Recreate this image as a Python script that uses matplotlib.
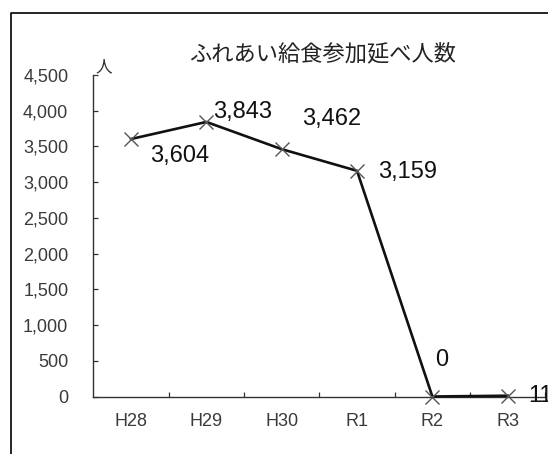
import matplotlib
matplotlib.use("Agg")
import matplotlib.pyplot as plt
from matplotlib.lines import Line2D
from matplotlib.ticker import FuncFormatter, FixedLocator

# Annual total of participants in the community school-lunch programme
years = ["H28", "H29", "H30", "R1", "R2", "R3"]
participants = [3604, 3843, 3462, 3159, 0, 11]

# Label offsets (pixels) of each value label relative to its point
label_dx = [49, 36, 50, 51, 9, 21]
label_dy = [-17, 10, 30, -1, 36, 0]
label_ha = ["center", "center", "center", "center", "center", "left"]

y_ticks = list(range(0, 4501, 500))

W, H = 548, 454
fig = plt.figure(figsize=(W / 100, H / 100), dpi=100)
fig.patch.set_facecolor("white")

ax_left, ax_bottom = 93.35, 396.5
ax_w, ax_h = 452, 321.5
ax = fig.add_axes([ax_left / W, 1 - ax_bottom / H, ax_w / W, ax_h / H])

xs = list(range(len(years)))
ax.plot(xs, participants, color="#111111", lw=1.9, zorder=3, clip_on=False)
ax.plot(xs, participants, ls="none", marker="x", ms=9.5, mew=1.0,
        color="#555555", zorder=4, clip_on=False)

for x, v, dx, dy, ha in zip(xs, participants, label_dx, label_dy, label_ha):
    ax.annotate(f"{v:,}", (x, v), xytext=(dx, dy), textcoords="offset pixels",
                ha=ha, va="center", fontsize=17, family="Liberation Sans",
                color="#111111", annotation_clip=False)

ax.set_xlim(-0.5, len(years) - 0.5)
ax.set_ylim(0, 4500)

ax.set_yticks(y_ticks)
ax.yaxis.set_major_formatter(FuncFormatter(lambda v, p: f"{int(v):,}"))
ax.tick_params(axis="y", direction="in", length=3.6, width=0.9,
               color="#333333", pad=18, labelsize=13, labelcolor="#3a3a3a")

ax.set_xticks(xs)
ax.set_xticklabels(years)
ax.xaxis.set_minor_locator(FixedLocator([i + 0.5 for i in range(len(years))]))
ax.tick_params(axis="x", which="major", length=0, pad=12,
               labelsize=13, labelcolor="#3a3a3a")
ax.tick_params(axis="x", which="minor", direction="in", length=3.6,
               width=0.9, color="#333333")
for lab in ax.get_xticklabels() + ax.get_yticklabels():
    lab.set_family("Liberation Sans")

for side in ("top", "right"):
    ax.spines[side].set_visible(False)
for side in ("left", "bottom"):
    ax.spines[side].set_color("#333333")
    ax.spines[side].set_linewidth(1.0)

# Unit marker above the value axis
fig.text(104 / W, 1 - 67 / H, "人", ha="center", va="center", fontsize=12,
         family=["Noto Sans CJK JP", "DejaVu Sans"], color="#333333")

# Chart title
fig.text(322.6 / W, 1 - 54 / H, "ふれあい給食参加延べ人数", ha="center",
         va="center", fontsize=16, family=["Noto Sans CJK JP", "DejaVu Sans"],
         color="#222222")

# Outer chart border (left and top edges)
fx0, fy0 = 10.5 / W, 1 - 12.5 / H
fig.add_artist(Line2D([fx0, fx0, 1.0], [0.0, fy0, fy0], transform=fig.transFigure,
                      color="black", lw=1.2))

fig.savefig("out.png", dpi=100, facecolor="white")
